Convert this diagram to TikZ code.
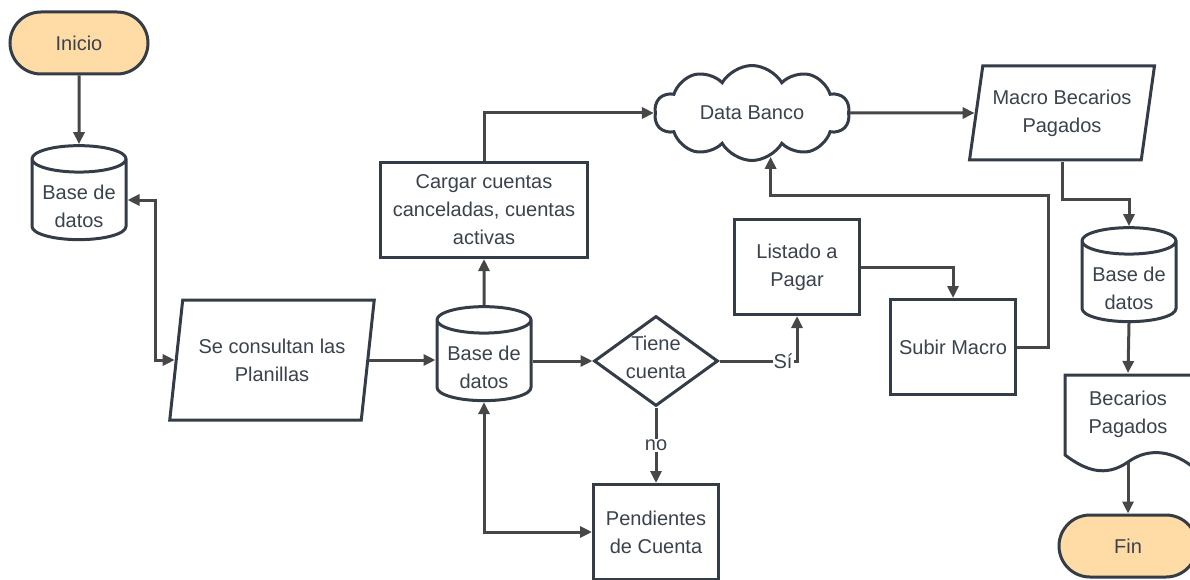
\documentclass[tikz,border=0pt]{standalone}
\usepackage{fontspec}
\setmainfont{Liberation Sans}
\usetikzlibrary{shapes.geometric,shapes.symbols,arrows.meta,calc}
\definecolor{bord}{HTML}{333C47}
\definecolor{conn}{HTML}{474747}
\definecolor{txt}{HTML}{3A424D}
\definecolor{orng}{HTML}{FFDBA6}
\newcommand{\shiftedtext}[2]{\raisebox{#1}[0pt][0pt]{\begin{tabular}{@{}c@{}}#2\end{tabular}}}
\begin{document}
\begin{tikzpicture}[x=1pt,y=-1pt,
  base/.style={draw=bord, line width=3pt, text=txt, font=\fontsize{20}{28}\selectfont, align=center, inner sep=0pt, fill=white},
  term/.style={base, fill=orng, rounded corners=31pt, minimum width=138pt, minimum height=62pt},
  db/.style={base, cylinder, shape border rotate=90, aspect=0.36, minimum width=94pt, minimum height=94pt},
  proc/.style={base, rectangle, minimum width=125pt, minimum height=95pt},
  io/.style={base, trapezium, trapezium left angle=76, trapezium right angle=104, trapezium stretches=true},
  dec/.style={base, diamond, aspect=1.38, minimum width=124pt, minimum height=90pt},
  cloudbox/.style={base, cloud, cloud puffs=10, cloud puff arc=120, cloud ignores aspect, minimum width=195pt, minimum height=95pt},
  arr/.style={draw=conn, line width=3pt, -{Triangle[length=12pt,width=11pt]}},
  biarr/.style={draw=conn, line width=3pt, {Triangle[length=12pt,width=11pt]}-{Triangle[length=12pt,width=11pt]}},
  lbl/.style={fill=white, text=txt, font=\fontsize{20}{24}\selectfont, inner sep=1pt}
]
\useasboundingbox (0,0) rectangle (1190,580);

\node[term] (inicio) at (79,43) {Inicio};
\node[db] (db1) at (79,200) {\shiftedtext{-13pt}{Base de\\datos}};
\node[io, minimum width=205pt, minimum height=120pt] (plan) at (272,360) {Se consultan las\\Planillas};
\node[db] (db2) at (484,361) {\shiftedtext{-13pt}{Base de\\datos}};
\node[proc, minimum width=207pt] (cargar) at (484,210) {Cargar cuentas\\canceladas, cuentas\\activas};
\node[cloudbox] (banco) at (752,113) {Data Banco};
\node[io, minimum width=185pt, minimum height=94pt] (macro) at (1062,113) {Macro Becarios\\Pagados};
\node[db] (db3) at (1129,282) {\shiftedtext{-13pt}{Base de\\datos}};
\draw[draw=bord, line width=3pt, fill=white] (1065,375) -- (1194,375) -- (1194,468)
  .. controls (1175,452) and (1150,446) .. (1128,462)
  .. controls (1105,478) and (1085,470) .. (1065,455) -- cycle;
\node[base, draw=none, fill=none, minimum width=127pt, minimum height=87pt] (doc) at (1128,418) {\shiftedtext{-1pt}{Becarios\\Pagados}};
\node[term] (fin) at (1128,546) {Fin};
\node[dec] (tiene) at (656,361) {\shiftedtext{-3.5pt}{Tiene\\cuenta}};
\node[proc] (listado) at (797,267) {Listado a\\Pagar};
\node[proc] (subir) at (953,347) {Subir Macro};
\node[proc] (pend) at (656,532) {Pendientes\\de Cuenta};
\coordinate (back) at (1048,195);

\draw[arr] (inicio) -- (db1);
\draw[biarr] (db1.east) -- ++(28,0) |- (plan.west);
\draw[arr] (plan.east) -- (plan.east -| db2.west);
\draw[arr] (db2.north) -- (cargar.south);
\draw[arr] (cargar.north) |- (banco.west);
\draw[arr] (banco.east) -- (macro.west);
\draw[arr] (macro.center |- macro.south) -- ++(0,38) -| (db3.north);
\draw[arr] (db3.south) -- (doc.north);
\draw[arr] (doc.south) -- (fin.north);
\draw[arr] (db2.east) -- (tiene.west);
\draw[arr] (tiene.east) -| node[lbl, pos=0.41] {Sí} (listado.south);
\draw[arr] (tiene.south) -- node[lbl, pos=0.5] {no} (pend.north);
\draw[biarr] (db2.south) |- (pend.west);
\draw[arr] (listado.east) -| (subir.north);
\draw[arr] (subir.east) -| (back) -| (banco.-67);
\end{tikzpicture}
\end{document}
